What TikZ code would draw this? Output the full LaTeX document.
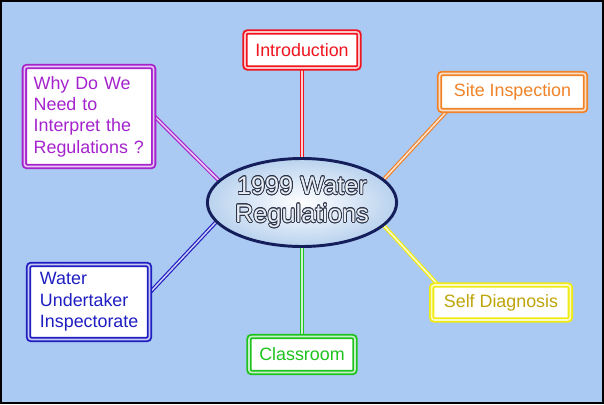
\documentclass[tikz,border=0pt]{standalone}
\usepackage{fontspec}
\setmainfont{Liberation Sans}
\usepackage{contour}
\usepackage{tikz}
\usetikzlibrary{shapes.geometric, backgrounds, positioning}
\tikzset{>=stealth}
\definecolor{waterBg}{RGB}{170,201,243}
\definecolor{introRed}{RGB}{240,20,30}
\definecolor{needPurple}{RGB}{165,35,205}
\definecolor{siteOrange}{RGB}{240,130,40}
\definecolor{waterBlue}{RGB}{30,30,195}
\definecolor{classGreen}{RGB}{30,195,30}
\definecolor{selfYellow}{RGB}{240,235,20}
\definecolor{selfText}{RGB}{190,165,10}
\definecolor{regNavy}{RGB}{20,30,90}
\definecolor{regBlue}{RGB}{185,210,238}
\definecolor{regSilver}{RGB}{232,238,245}
\definecolor{regDark}{RGB}{45,50,70}
\contourlength{0.55pt}
\tikzset{box/.style={draw=#1, double=#1!25!white, line width=1.4pt, double distance=1.2pt,
    rounded corners=2pt, fill=white, inner sep=0pt, font=\fontsize{13.4}{16}\selectfont},
  link/.style={draw=#1, double=#1!20!white, line width=0.9pt, double distance=1.1pt}}

\begin{document}
\begin{tikzpicture}[x=0.75pt, y=-0.75pt]
\useasboundingbox (0,0) rectangle (604,404);
\node [ellipse, draw=regNavy, line width=2.2pt, inner color=white, outer color=regBlue,
  minimum width=131pt, minimum height=66pt, inner sep=0pt, align=center, text=regSilver,
  font=\fontsize{19}{21}\selectfont] (W) at (302,202.5)
  {\contour{regDark}{1999 Water}\\\contour{regDark}{Regulations}};
\node [box=introRed, text=introRed, minimum width=85.5pt, minimum height=27pt] (I) at (302,50) {Introduction};
\node [box=needPurple, text=needPurple, align=left, text width=83pt, inner xsep=7pt,
  minimum height=75pt] (N) at (89,116.5) {Why Do We\\Need to\\Interpret the\\Regulations ?};
\node [box=siteOrange, text=siteOrange, minimum width=109.5pt, minimum height=27.75pt] (S) at (512.5,92) {Site Inspection};
\node [box=waterBlue, text=waterBlue, align=left, text width=73.5pt, inner xsep=8.6pt,
  minimum height=56.25pt] (U) at (89,302) {Water\\Undertaker\\Inspectorate};
\node [box=classGreen, text=classGreen, minimum width=79.5pt, minimum height=27pt] (C) at (302,354.5) {Classroom};
\node [box=selfYellow, text=selfText, minimum width=104pt, minimum height=26.25pt] (D) at (501,302.5) {Self Diagnosis};

\begin{scope}[on background layer]
\fill[waterBg] (0,0) rectangle (604,404);
\draw[link=introRed] (I.south) -- (W.north);
\draw[link=needPurple] (N.east) -- (W.165);
\draw[link=siteOrange] ([xshift=6pt]S.south west) -- (W.16);
\draw[link=waterBlue] ([yshift=7.5pt]U.east) -- (W.193);
\draw[link=classGreen] (W.south) -- (C.north);
\draw[link=selfYellow] ([xshift=5pt]D.north west) -- (W.-16);
\end{scope}

\draw[black, line width=1.5pt] (1,1) rectangle (603,403);
\end{tikzpicture}
\end{document}
